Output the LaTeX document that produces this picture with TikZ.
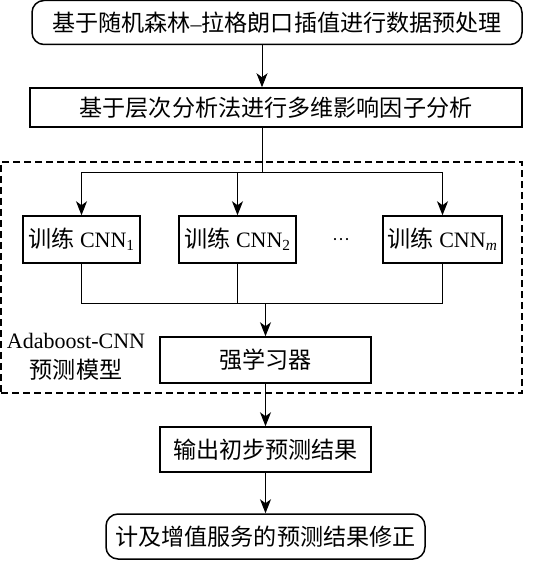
\documentclass[tikz,border=0pt]{standalone}
\usepackage{fontspec}
\setmainfont{Liberation Serif}
\newfontfamily\cjk[Scale=1.05]{Noto Sans CJK SC}
\usetikzlibrary{arrows.meta,calc}
\begin{document}
\begin{tikzpicture}[x=1pt,y=-1pt,
  txt/.style={font=\fontsize{22}{26}\selectfont, inner sep=0pt},
  box/.style={txt, draw, line width=1.5pt, align=center},
  rbox/.style={box, rounded corners=12pt},
  frame/.style={draw, dashed, line width=1.2pt, dash pattern=on 7pt off 4pt, inner sep=0pt},
  conn/.style={line width=1pt},
  arr/.style={conn, -{Stealth[length=14pt,width=11pt,inset=4pt]}}]
\useasboundingbox (0,0) rectangle (557,561);
% dashed group frame
\node[frame, minimum width=521pt, minimum height=231pt] (frame) at (261.5,277.5) {};
% boxes
\node[rbox, minimum width=490pt, minimum height=44pt] (top) at (277,22.5)
  {{\cjk 基于随机森林}–{\cjk 拉格朗口插值进行数据预处理}};
\node[box, minimum width=492pt, minimum height=39pt] (fac) at (276,107.5)
  {\cjk 基于层次分析法进行多维影响因子分析};
\node[box, minimum width=117pt, minimum height=47pt] (c1) at (81.5,239.5)
  {{\cjk 训练} CNN\textsubscript{1}};
\node[box, minimum width=117pt, minimum height=47pt] (c2) at (237.5,239.5)
  {{\cjk 训练} CNN\textsubscript{2}};
\node[txt] (dots) at (341,242) {\fontsize{18}{20}\selectfont ···};
\node[box, minimum width=119pt, minimum height=47pt] (cm) at (442.5,239.5)
  {{\cjk 训练} CNN\textsubscript{\textit{m}}};
\node[box, minimum width=211pt, minimum height=46pt] (strong) at (265.5,360)
  {\cjk 强学习器};
\node[box, minimum width=211pt, minimum height=45pt] (out) at (265.5,449.5)
  {\cjk 输出初步预测结果};
\node[rbox, minimum width=319pt, minimum height=45pt] (final) at (265.5,536.5)
  {\cjk 计及增值服务的预测结果修正};
% frame label
\node[txt, anchor=base] (lbl1) at (76,348) {Adaboost-CNN};
\node[txt, anchor=base] (lbl2) at (76,378) {\cjk 预测模型};
% connectors
\coordinate (spine) at (262,0);
\coordinate (split) at (262,173);
\coordinate (join) at (265.5,303);
\draw[arr] (top.south -| spine) -- (fac.north -| spine);
\draw[conn] (fac.south -| spine) -- (split);
\draw[arr] (split) -| (c1.north);
\draw[arr] (split) -| (cm.north);
\draw[arr] (c2.north |- split) -- (c2.north);
\draw[conn] (c1.south) |- (join);
\draw[conn] (cm.south) |- (join);
\draw[conn] (c2.south) -- (c2.south |- join);
\draw[arr] (join) -- (strong.north);
\draw[arr] (strong.south) -- (out.north);
\draw[arr] (out.south) -- (final.north);
\end{tikzpicture}
\end{document}
